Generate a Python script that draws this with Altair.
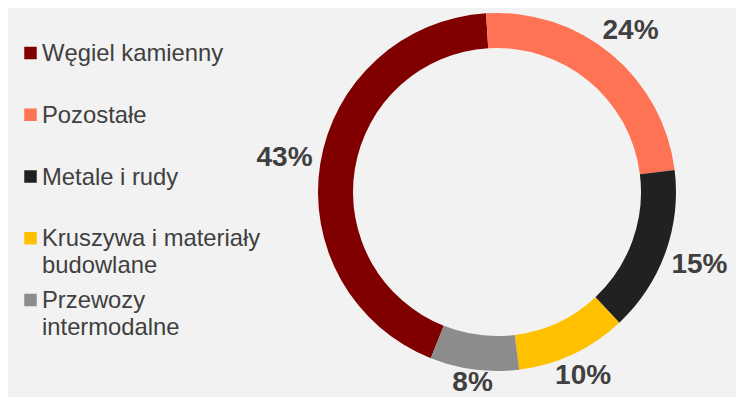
import math
import altair as alt
import pandas as pd

# ---- data ----
categories = ["Węgiel kamienny", "Pozostałe", "Metale i rudy",
              "Kruszywa i materiały budowlane", "Przewozy intermodalne"]
legend_labels = ["Węgiel kamienny", "Pozostałe", "Metale i rudy",
                 "Kruszywa i materiały\nbudowlane", "Przewozy\nintermodalne"]
shares = [43, 24, 15, 10, 8]
ring_order = [5, 1, 2, 3, 4]          # clockwise order around the ring
colors = ["#800000", "#FF7355", "#212121", "#FFC000", "#8C8C8C"]

df = pd.DataFrame({
    "cat": categories,
    "label": legend_labels,
    "share": shares,
    "ord": ring_order,
})
df["pct"] = df["share"].astype(str) + "%"

FONT = "Liberation Sans"
TXT = "#404040"
START = math.radians(-3.5)
R_OUT, R_IN = 179, 144
CX, CY = 489, 184

color_scale = alt.Scale(domain=categories, range=colors)

# ---- donut ----
base = alt.Chart(df).encode(
    theta=alt.Theta("share:Q", stack=True,
                    scale=alt.Scale(range=[START, START + 2 * math.pi])),
    order=alt.Order("ord:Q"),
    x=alt.value(CX),
    y=alt.value(CY),
)
arcs = base.mark_arc(outerRadius=R_OUT, innerRadius=R_IN).encode(
    color=alt.Color("cat:N", scale=color_scale, legend=None)
)
# "outside end" placement: label box just outside the ring at the slice's mid-angle
T = f"({START} + PI*(datum.share_start + datum.share_end)/100)"
radius_expr = (f"{R_OUT} + 5*abs(sin({T})) + (8*length(datum.pct) + 6)*abs(sin({T}))"
               f" + 10*abs(cos({T}))")
labels = base.mark_text(
    radius=alt.expr(radius_expr), font=FONT, fontSize=28, fontWeight="bold",
    color=TXT
).encode(text="pct:N")

# ---- legend ----
leg = alt.Chart(df).encode(
    y=alt.Y("cat:N", sort=categories, axis=None,
            scale=alt.Scale(range=[45, 292], padding=0))
)
squares = leg.mark_square(size=156, opacity=1).encode(
    x=alt.value(22.5),
    color=alt.Color("cat:N", scale=color_scale, legend=None),
)
texts = leg.mark_text(
    align="left", baseline="alphabetic", dy=8, lineBreak="\n",
    font=FONT, fontSize=23.8, lineHeight=27, color=TXT
).encode(x=alt.value(34), text="label:N")

chart = alt.layer(arcs, labels, squares, texts).properties(
    width=728, height=389, padding=0, background="#f2f2f2",
    autosize=alt.AutoSizeParams(type="none"),
).configure_view(stroke=None)

chart.save("out.html", embed_options={"renderer": "svg", "actions": False})
